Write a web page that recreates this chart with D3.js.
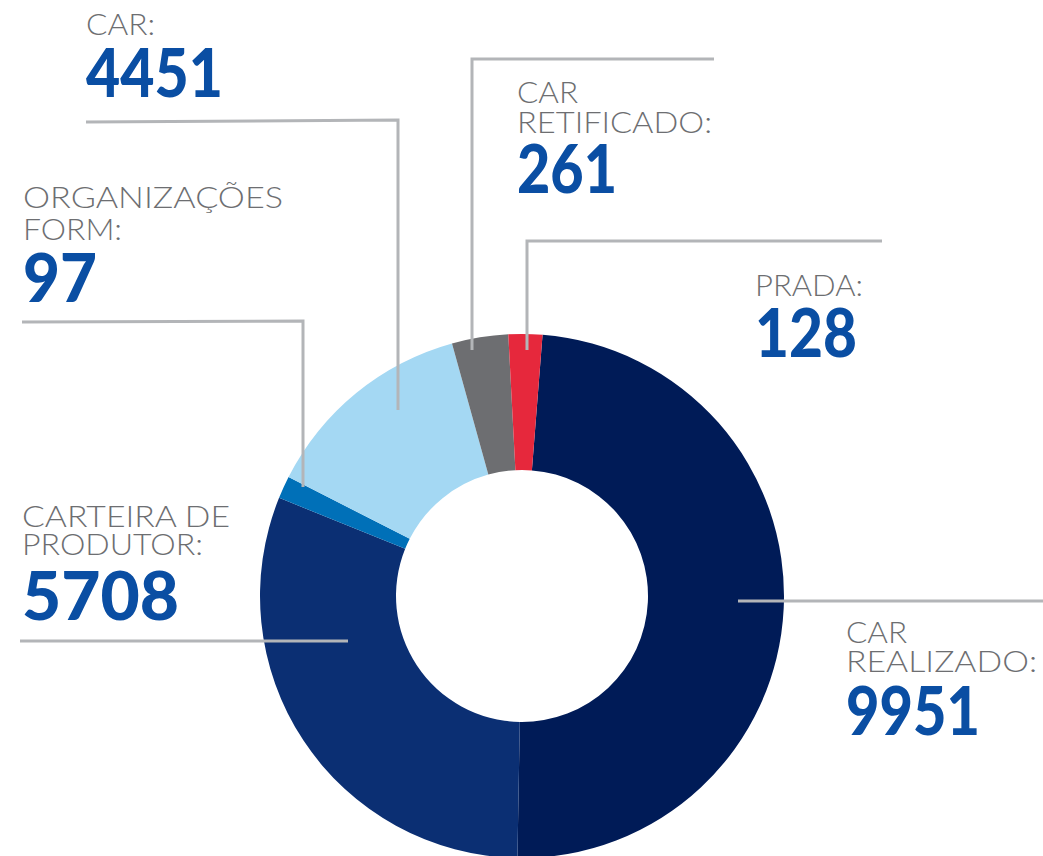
<!DOCTYPE html>
<html>
<head>
<meta charset="utf-8">
<script src="https://cdn.jsdelivr.net/npm/d3@7"></script>
<style>
  body { margin: 0; background: #fff; }
  .lbl { font-family: "Lato", "Open Sans", sans-serif; font-weight: 300; fill: #6d6e71; font-size: 30px; }
  .num { font-family: "Lato", "Open Sans", sans-serif; font-weight: 900; fill: #0a4ea3; font-size: 66px; }
  .leader { fill: none; stroke: #b3b5b8; stroke-width: 3; }
</style>
</head>
<body>
<script>
// categories, in clockwise order starting near 12 o'clock
var categories = ["CAR REALIZADO", "CARTEIRA DE PRODUTOR", "ORGANIZAÇÕES FORM", "CAR", "CAR RETIFICADO", "PRADA"];
// printed values
var values = [9951, 5708, 97, 4451, 261, 128];
// slice sizes as drawn in the picture (degrees of the ring), they do not follow the values
var sliceShare = [176.5, 111, 5, 47.5, 12.5, 7.5];
// label lines as printed
var labelLines = [
  ["CAR", "REALIZADO:"],
  ["CARTEIRA DE", "PRODUTOR:"],
  ["ORGANIZAÇÕES", "FORM:"],
  ["CAR:"],
  ["CAR", "RETIFICADO:"],
  ["PRADA:"]
];
var colors = ["#001b57", "#0b2f73", "#0070b8", "#a4d8f3", "#6d6e71", "#e6283c"];

var w = 1043, h = 856;
var cx = 522, cy = 596, rOuter = 262, rInner = 126;

// annotation layout: text x, label baselines, number baseline, measured widths, leader path
var layout = [
  { x: 846, base: [643, 672], numBase: 735, lw: [61, 191], nw: 134,
    leader: [[1043, 601], [738, 601]] },
  { x: 22, base: [527, 555], numBase: 620, lw: [208, 181], nw: 157,
    leader: [[20, 641], [348, 641]] },
  { x: 23, base: [208, 240], numBase: 302, lw: [260, 99], nw: 74,
    leader: [[22, 322], [303, 321], [303, 487]] },
  { x: 86, base: [35], numBase: 97, lw: [69], nw: 137,
    leader: [[86, 122], [398, 120], [398, 410]] },
  { x: 517, base: [103, 133], numBase: 193, lw: [61, 195], nw: 100,
    leader: [[714, 59], [472, 59], [472, 350]] },
  { x: 755, base: [296], numBase: 357, lw: [108], nw: 102,
    leader: [[882, 241], [527, 241], [527, 350]] }
];

var svg = d3.select("body").append("svg")
  .attr("width", w)
  .attr("height", h);

var pie = d3.pie()
  .sort(null)
  .value(d => d)
  .startAngle(4.5 * Math.PI / 180)
  .endAngle(364.5 * Math.PI / 180);

var arc = d3.arc().innerRadius(rInner).outerRadius(rOuter);

svg.append("g")
  .attr("transform", `translate(${cx}, ${cy})`)
  .selectAll("path")
  .data(pie(sliceShare))
  .enter()
  .append("path")
  .attr("d", arc)
  .attr("fill", (d, i) => colors[i]);

// leader lines drawn over the ring
svg.selectAll(".leader")
  .data(layout)
  .enter()
  .append("path")
  .attr("class", "leader")
  .attr("d", d => d3.line()(d.leader));

// labels + numbers
categories.forEach((c, i) => {
  var L = layout[i];
  labelLines[i].forEach((t, j) => {
    svg.append("text")
      .attr("class", "lbl")
      .attr("x", L.x)
      .attr("y", L.base[j])
      .attr("textLength", L.lw[j])
      .attr("lengthAdjust", "spacingAndGlyphs")
      .text(t);
  });
  svg.append("text")
    .attr("class", "num")
    .attr("x", L.x)
    .attr("y", L.numBase)
    .attr("textLength", L.nw)
    .attr("lengthAdjust", "spacingAndGlyphs")
    .text(values[i]);
});
</script>
</body>
</html>
